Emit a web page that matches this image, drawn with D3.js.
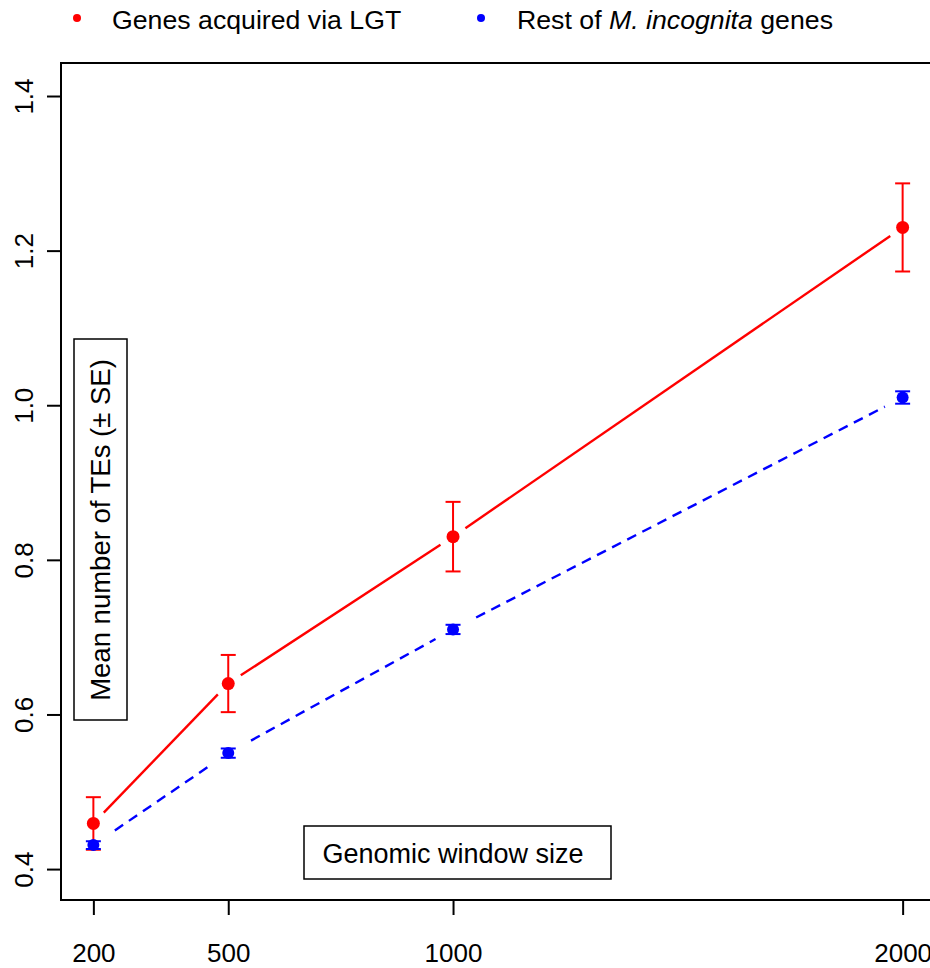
<!DOCTYPE html>
<html>
<head>
<meta charset="utf-8">
<script src="https://cdn.jsdelivr.net/npm/d3@7"></script>
<style>
  body { margin: 0; background: #fff; }
  svg { display: block; font-family: "Liberation Sans", Arial, sans-serif; }
</style>
</head>
<body>
<div id="chart"></div>
<script>
// window size (bp) on the x axis
var windowSizes = [200, 500, 1000, 2000];
// genes acquired via LGT
var lgtMean = [0.459, 0.640, 0.830, 1.230];
var lgtSE = [0.034, 0.037, 0.045, 0.057];
// rest of M. incognita genes
var restMean = [0.431, 0.550, 0.710, 1.010];
var restSE = [0.005, 0.006, 0.006, 0.008];
var yTicks = [0.4, 0.6, 0.8, 1.0, 1.2, 1.4];

var W = 930, H = 968;
var plotLeft = 61, plotTop = 63, plotBottom = 900, plotRight = 935;

var svg = d3.select("#chart").append("svg")
    .attr("width", W).attr("height", H);
svg.append("rect").attr("width", W).attr("height", H).attr("fill", "#fff");

var xScale = d3.scaleLinear().domain([128, 2072]).range([plotLeft, plotRight]);
var yScale = d3.scaleLinear().domain([0.36, 1.4427]).range([plotBottom, plotTop]);

// frame
svg.append("rect")
    .attr("x", plotLeft).attr("y", plotTop)
    .attr("width", plotRight - plotLeft).attr("height", plotBottom - plotTop)
    .attr("fill", "none").attr("stroke", "#000").attr("stroke-width", 2);

// x axis
var xAxisCall = d3.axisBottom(xScale).tickValues(windowSizes).tickSize(15).tickFormat(d3.format("d"));
var gx = svg.append("g").attr("transform", "translate(0," + plotBottom + ")").call(xAxisCall);
gx.select(".domain").remove();
gx.selectAll(".tick line").attr("stroke", "#000").attr("stroke-width", 2);
gx.selectAll(".tick text")
    .attr("y", 62).attr("dy", null)
    .attr("fill", "#000").style("font-size", "26px").style("font-family", "Liberation Sans, Arial, sans-serif");

// y axis
var yAxisCall = d3.axisLeft(yScale).tickValues(yTicks).tickSize(14).tickFormat(d3.format(".1f"));
var gy = svg.append("g").attr("transform", "translate(" + plotLeft + ",0)").call(yAxisCall);
gy.select(".domain").remove();
gy.selectAll(".tick line").attr("stroke", "#000").attr("stroke-width", 2);
gy.selectAll(".tick text")
    .attr("x", null).attr("y", null).attr("dy", null)
    .attr("transform", "translate(-28,0) rotate(-90)")
    .attr("text-anchor", "middle")
    .attr("fill", "#000").style("font-size", "26px").style("font-family", "Liberation Sans, Arial, sans-serif");

// lines joining points, with a gap round each point (like type="b")
function drawSeries(means, color, dash, gapStart, gapEnd)
{
  var pts = windowSizes.map(function(d, i) { return [xScale(d), yScale(means[i])]; });
  var line = d3.line();
  for (var i = 0; i < pts.length - 1; i++)
  {
    var a = pts[i], b = pts[i + 1];
    var dx = b[0] - a[0], dy = b[1] - a[1];
    var len = Math.sqrt(dx * dx + dy * dy);
    var ux = dx / len, uy = dy / len;
    var seg = [[a[0] + ux * gapStart, a[1] + uy * gapStart], [b[0] - ux * gapEnd, b[1] - uy * gapEnd]];
    var p = svg.append("path").attr("d", line(seg))
        .attr("fill", "none").attr("stroke", color).attr("stroke-width", 2.4);
    if (dash) p.attr("stroke-dasharray", dash);
  }
}

function drawErrors(means, ses, color, r)
{
  var cap = 7.5;
  windowSizes.forEach(function(d, i)
  {
    var x = xScale(d);
    var y1 = yScale(means[i] + ses[i]), y0 = yScale(means[i] - ses[i]);
    var g = svg.append("g").attr("stroke", color).attr("stroke-width", 2);
    g.append("line").attr("x1", x).attr("x2", x).attr("y1", y1).attr("y2", y0);
    g.append("line").attr("x1", x - cap).attr("x2", x + cap).attr("y1", y1).attr("y2", y1);
    g.append("line").attr("x1", x - cap).attr("x2", x + cap).attr("y1", y0).attr("y2", y0);
    svg.append("circle").attr("cx", x).attr("cy", yScale(means[i])).attr("r", r).attr("fill", color);
  });
}

drawSeries(restMean, "#0000ff", "10,7", 26, 20);
drawSeries(lgtMean, "#ff0000", null, 15, 15);
drawErrors(lgtMean, lgtSE, "#ff0000", 6.5);
drawErrors(restMean, restSE, "#0000ff", 6);

// axis label boxes
svg.append("rect").attr("x", 74).attr("y", 339).attr("width", 53).attr("height", 381)
    .attr("fill", "#fff").attr("stroke", "#000").attr("stroke-width", 1.5);
svg.append("text")
    .attr("transform", "translate(110,530) rotate(-90)")
    .attr("text-anchor", "middle")
    .style("font-size", "27.5px")
    .text("Mean number of TEs (\u00b1 SE)");

svg.append("rect").attr("x", 304).attr("y", 826).attr("width", 307).attr("height", 53)
    .attr("fill", "#fff").attr("stroke", "#000").attr("stroke-width", 1.5);
svg.append("text")
    .attr("x", 453).attr("y", 863)
    .attr("text-anchor", "middle")
    .style("font-size", "27px")
    .text("Genomic window size");

// legend
svg.append("circle").attr("cx", 77).attr("cy", 18).attr("r", 4).attr("fill", "#ff0000");
svg.append("text").attr("x", 112).attr("y", 29).style("font-size", "26.7px").text("Genes acquired via LGT");
svg.append("circle").attr("cx", 481).attr("cy", 18).attr("r", 4).attr("fill", "#0000ff");
var lt = svg.append("text").attr("x", 517).attr("y", 29).style("font-size", "26.7px");
lt.append("tspan").text("Rest of ");
lt.append("tspan").style("font-style", "italic").text("M. incognita");
lt.append("tspan").text(" genes");
</script>
</body>
</html>
